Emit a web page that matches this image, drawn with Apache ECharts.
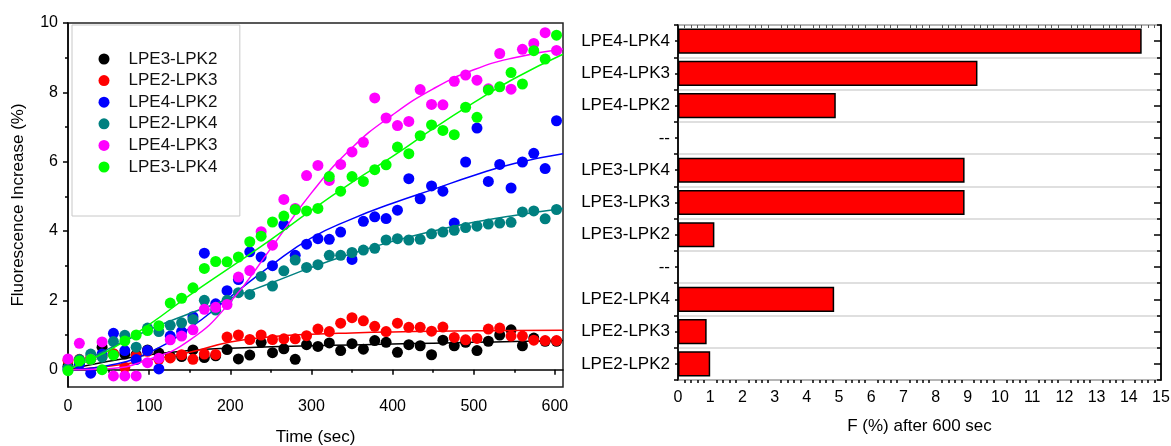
<!DOCTYPE html>
<html><head><meta charset="utf-8">
<script src="https://cdn.jsdelivr.net/npm/echarts@6/dist/echarts.min.js"></script>
<style>html,body{margin:0;padding:0;background:#fff}#c{width:1171px;height:446px}</style>
</head><body><div id="c"></div>
<script>
// ---- Left chart data (time in sec, fluorescence increase in %) ----
const times = [0,14,28,42,56,70,84,98,112,126,140,154,168,182,196,210,224,238,252,266,280,294,308,322,336,350,364,378,392,406,420,434,448,462,476,490,504,518,532,546,560,574,588,602];
const seriesNames = ['LPE3-LPK2','LPE2-LPK3','LPE4-LPK2','LPE2-LPK4','LPE4-LPK3','LPE3-LPK4'];
const seriesColors = ['#000000','#ff0000','#0000ff','#008080','#ff00ff','#00ff00'];
const lpe3lpk2 = [0.1,0.2,0.3,0.65,0.45,0.45,0.43,0.57,0.48,0.38,0.38,0.57,0.35,0.4,0.58,0.31,0.42,0.79,0.49,0.6,0.3,0.72,0.67,0.77,0.55,0.75,0.59,0.84,0.79,0.5,0.72,0.69,0.43,0.85,0.69,0.79,0.55,0.82,1.0,1.15,0.69,0.91,0.82,0.82];
const lpe2lpk3 = [0.27,0.3,0.35,0.4,0.46,0.07,0.4,0.53,0.3,0.34,0.43,0.3,0.45,0.44,0.94,1.0,0.87,1.0,0.87,0.89,0.89,0.98,1.17,1.1,1.34,1.5,1.41,1.25,1.1,1.34,1.22,1.22,1.11,1.23,0.93,0.86,0.9,1.17,1.2,0.97,0.97,0.85,0.84,0.84];
const lpe4lpk2 = [0.0,0.15,-0.1,0.45,1.05,0.55,0.29,0.55,0.02,0.97,1.1,1.53,3.36,1.9,2.28,2.6,3.4,3.25,3.0,4.18,3.3,3.62,3.78,3.76,3.97,3.18,4.28,4.41,4.36,4.6,5.51,4.93,5.3,5.15,4.23,5.99,6.97,5.43,5.92,5.24,5.99,6.24,5.8,7.18];
const lpe2lpk4 = [0.05,0.29,0.45,0.36,0.81,0.99,0.65,1.2,1.1,1.28,1.35,1.45,2.0,1.72,2.0,2.22,2.17,2.69,2.41,2.85,3.16,2.95,3.03,3.3,3.3,3.38,3.45,3.5,3.74,3.78,3.74,3.76,3.92,3.97,4.02,4.1,4.14,4.2,4.23,4.25,4.55,4.58,4.35,4.62];
const lpe4lpk3 = [0.31,0.76,0.3,0.8,-0.18,-0.18,-0.18,0.2,0.33,0.86,0.97,1.15,1.74,1.8,1.88,2.67,2.86,3.98,3.59,4.91,4.65,5.6,5.89,5.46,5.92,6.28,6.56,7.84,7.26,7.04,7.16,8.08,7.65,7.64,8.32,8.5,8.35,8.1,9.12,8.09,9.24,9.41,9.72,9.21];
const lpe3lpk4 = [-0.03,0.25,0.3,0.0,0.42,0.83,1.0,1.13,1.27,1.92,2.06,2.36,2.92,3.12,3.11,3.25,3.69,3.85,4.26,4.43,4.62,4.58,4.65,5.57,5.15,5.57,5.43,5.77,5.91,6.42,6.23,6.75,7.06,6.9,6.78,7.57,7.28,8.07,8.16,8.57,8.24,9.2,8.96,9.65];
const seriesValues = [lpe3lpk2, lpe2lpk3, lpe4lpk2, lpe2lpk4, lpe4lpk3, lpe3lpk4];

// fitted curves
const fitTimes = [0,50,100,150,200,250,300,350,400,450,500,550,610];
const fitLpe3lpk2 = [0,0.24,0.43,0.55,0.62,0.66,0.69,0.715,0.74,0.765,0.79,0.81,0.84];
const fitLpe2lpk3 = [0,0.1,0.28,0.5,0.8,0.95,1.02,1.06,1.09,1.11,1.12,1.13,1.14];
const fitLpe4lpk2 = [0,0.12,0.5,1.2,2.1,3.0,3.8,4.35,4.8,5.2,5.6,5.95,6.23];
const fitLpe2lpk4 = [0,0.6,1.15,1.62,2.06,2.5,2.95,3.35,3.7,4.0,4.25,4.45,4.65];
const fitLpe4lpk3 = [0,0.03,0.3,0.85,1.95,3.5,5.1,6.4,7.35,8.1,8.65,9.0,9.25];
const fitLpe3lpk4 = [0,0.55,1.3,2.15,2.95,3.75,4.6,5.4,6.15,6.95,7.7,8.4,9.1];
const fitValues = [fitLpe3lpk2, fitLpe2lpk3, fitLpe4lpk2, fitLpe2lpk4, fitLpe4lpk3, fitLpe3lpk4];

const timeTicks = [0,100,200,300,400,500,600];
const timeMinorTicks = [50,150,250,350,450,550];
const fluorTicks = [0,2,4,6,8,10];
const fluorMinorTicks = [1,3,5,7,9];

// ---- Right chart data ----
const barCategories = ['LPE4-LPK4','LPE4-LPK3','LPE4-LPK2','--','LPE3-LPK4','LPE3-LPK3','LPE3-LPK2','--','LPE2-LPK4','LPE2-LPK3','LPE2-LPK2'];
const barValues = [14.4, 9.3, 4.9, null, 8.9, 8.9, 1.13, null, 4.85, 0.89, 1.0];

const FONT = 'Liberation Sans, Arial, sans-serif';
const AX = {color:'#000', width:1.5};

const series = [];
seriesNames.forEach((n, k) => {
  series.push({
    name: n, type: 'scatter', xAxisIndex: 0, yAxisIndex: 0,
    symbol: 'circle', symbolSize: 11,
    itemStyle: {color: seriesColors[k], opacity: 1},
    data: times.map((t, i) => [t, seriesValues[k][i]]),
    z: 3 + k
  });
});
seriesNames.forEach((n, k) => {
  series.push({
    name: n + ' fit', type: 'line', xAxisIndex: 0, yAxisIndex: 0,
    showSymbol: false, symbol: 'none', smooth: 0.5, silent: true,
    lineStyle: {color: seriesColors[k], width: 1.5},
    data: fitTimes.map((t, i) => [t, fitValues[k][i]]),
    z: 3 + k
  });
});
series.push({
  type: 'bar', xAxisIndex: 2, yAxisIndex: 2,
  data: barValues, barCategoryGap: '22%',
  itemStyle: {color: '#ff0000', borderColor: '#000', borderWidth: 1.5},
  silent: true
});

const chart = echarts.init(document.getElementById('c'), null, {renderer: 'canvas'});
chart.setOption({
  animation: false,
  backgroundColor: '#fff',
  textStyle: {fontFamily: FONT},
  grid: [
    {left: 68, top: 23, width: 495, height: 364, show: true, borderColor: '#222', borderWidth: 1.5, outerBoundsMode: 'none', containLabel: false},
    {left: 678, top: 25, width: 483, height: 355, show: true, borderColor: '#222', borderWidth: 1.5, outerBoundsMode: 'none', containLabel: false}
  ],
  legend: {
    data: seriesNames, orient: 'vertical', left: 72, top: 25,
    padding: [25.5, 22.5, 40.5, 26.5], itemWidth: 11, itemHeight: 11, itemGap: 4.6,
    icon: 'circle', borderColor: '#c8c8c8', borderWidth: 1,
    textStyle: {fontSize: 17, fontFamily: FONT, color: '#111', padding: [0,0,0,14]},
    selectedMode: false
  },
  xAxis: [
    {gridIndex: 0, type: 'value', min: 0, max: 610, position: 'bottom',
     axisLine: {lineStyle: AX}, splitLine: {show: false},
     axisTick: {customValues: timeTicks, length: 5, lineStyle: AX},
     axisLabel: {customValues: timeTicks, fontSize: 16, color: '#000', margin: 12, fontFamily: FONT},
     name: 'Time (sec)', nameLocation: 'middle', nameGap: 42,
     nameTextStyle: {fontSize: 17, color: '#000', fontFamily: FONT}},
    {gridIndex: 0, type: 'value', min: 0, max: 610, position: 'bottom',
     axisLine: {show: false}, splitLine: {show: false}, axisLabel: {show: false},
     axisTick: {customValues: timeMinorTicks, length: 3, lineStyle: AX}},
    {gridIndex: 1, type: 'value', min: 0, max: 15, interval: 1, position: 'bottom',
     axisLine: {lineStyle: AX}, splitLine: {show: false},
     axisTick: {length: 6, lineStyle: AX},
     minorTick: {show: true, splitNumber: 5, length: 3, lineStyle: AX},
     axisLabel: {fontSize: 16, color: '#000', margin: 10, fontFamily: FONT},
     name: 'F (%) after 600 sec', nameLocation: 'middle', nameGap: 38,
     nameTextStyle: {fontSize: 17, color: '#000', fontFamily: FONT}},
    {gridIndex: 1, type: 'value', min: 0, max: 15, interval: 1, position: 'top',
     axisLine: {lineStyle: AX}, splitLine: {show: false}, axisLabel: {show: false},
     axisTick: {inside: true, length: 5, lineStyle: AX},
     minorTick: {show: true, splitNumber: 5, length: 3, lineStyle: {color: '#555', width: 1}}}
  ],
  yAxis: [
    {gridIndex: 0, type: 'value', min: -0.5, max: 10, position: 'left',
     axisLine: {show: true, lineStyle: AX}, splitLine: {show: false},
     axisTick: {show: true, customValues: fluorTicks, length: 5, lineStyle: AX},
     axisLabel: {customValues: fluorTicks, fontSize: 16, color: '#000', margin: 10, fontFamily: FONT},
     name: 'Fluorescence Increase (%)', nameLocation: 'middle', nameGap: 41,
     nameTextStyle: {fontSize: 17, color: '#000', fontFamily: FONT}},
    {gridIndex: 0, type: 'value', min: -0.5, max: 10, position: 'left',
     axisLine: {show: false}, splitLine: {show: false}, axisLabel: {show: false},
     axisTick: {show: true, customValues: fluorMinorTicks, length: 3, lineStyle: AX}},
    {gridIndex: 1, type: 'category', data: barCategories, inverse: true, position: 'left',
     axisLine: {show: true, lineStyle: AX},
     axisTick: {show: true, length: 4, lineStyle: AX},
     axisLabel: {fontSize: 17, color: '#000', margin: 8, fontFamily: FONT, interval: 0},
     splitLine: {show: true, lineStyle: {color: '#d4d4d4', width: 1.5}}},
    {gridIndex: 1, type: 'category', data: barCategories, inverse: true, position: 'left',
     axisLine: {show: false}, axisLabel: {show: false}, splitLine: {show: false},
     axisTick: {show: true, alignWithLabel: true, interval: 0, length: 3, lineStyle: AX}},
    {gridIndex: 1, type: 'category', data: barCategories, inverse: true, position: 'right',
     axisLine: {show: true, lineStyle: AX}, axisLabel: {show: false}, splitLine: {show: false},
     axisTick: {show: true, alignWithLabel: true, interval: 0, inside: true, length: 7, lineStyle: AX}},
    {gridIndex: 1, type: 'category', data: barCategories, inverse: true, position: 'right',
     axisLine: {show: false}, axisLabel: {show: false}, splitLine: {show: false},
     axisTick: {show: true, interval: 0, inside: true, length: 4, lineStyle: AX}}
  ],
  series: series
});
</script>
</body></html>
